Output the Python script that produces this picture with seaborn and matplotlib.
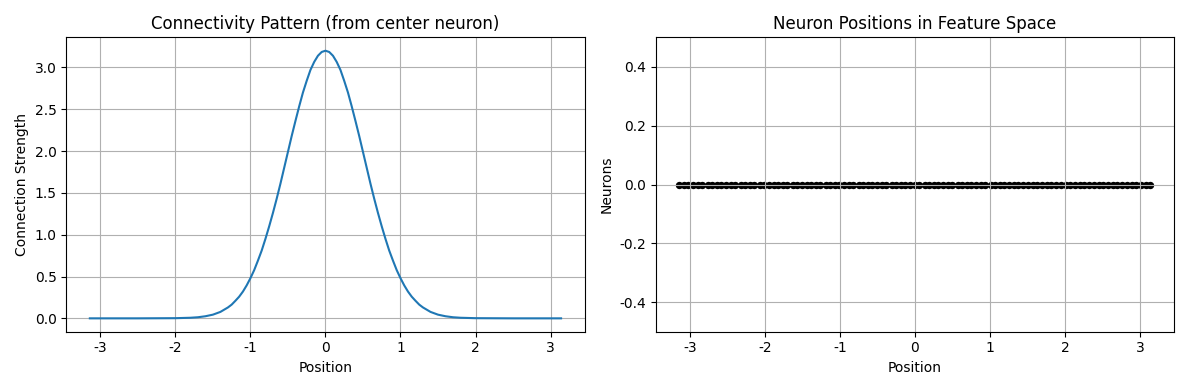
import matplotlib
matplotlib.use("Agg")
import matplotlib.pyplot as plt
import seaborn as sns
import pandas as pd

plt.rcParams['axes.unicode_minus'] = False

# Connectivity profile
conn_x = [-3.14, -2.5, -2.0, -1.8, -1.7, -1.6, -1.5, -1.4, -1.3, -1.25, -1.2, -1.15,
          -1.1, -1.05, -1.0, -0.95, -0.9, -0.85, -0.8, -0.75, -0.7, -0.65, -0.6,
          -0.55, -0.5, -0.45, -0.4, -0.35, -0.3, -0.25, -0.2, -0.15, -0.1, -0.05,
          0.0,
          0.05, 0.1, 0.15, 0.2, 0.25, 0.3, 0.35, 0.4, 0.45, 0.5, 0.55,
          0.6, 0.65, 0.7, 0.75, 0.8, 0.85, 0.9, 0.95, 1.0, 1.05, 1.1,
          1.15, 1.2, 1.25, 1.3, 1.4, 1.5, 1.6, 1.7, 1.8, 2.0, 2.5, 3.14]
conn_y = [0.0, 0.0, 0.002, 0.007, 0.013, 0.025, 0.044, 0.077, 0.13, 0.164, 0.21, 0.259,
          0.32, 0.394, 0.48, 0.576, 0.69, 0.81, 0.95, 1.10, 1.26, 1.43, 1.61,
          1.80, 1.99, 2.18, 2.36, 2.535, 2.70, 2.84, 2.97, 3.066, 3.14, 3.185,
          3.20,
          3.185, 3.14, 3.066, 2.97, 2.84, 2.70, 2.535, 2.36, 2.18, 1.99, 1.80,
          1.61, 1.43, 1.26, 1.10, 0.95, 0.81, 0.69, 0.576, 0.48, 0.394, 0.32,
          0.259, 0.21, 0.164, 0.13, 0.077, 0.044, 0.025, 0.013, 0.007, 0.002, 0.0, 0.0]

# Neuron positions along the ring
positions = [-3.14, -3.08, -3.02, -2.95, -2.89, -2.83, -2.76, -2.70, -2.64, -2.58,
             -2.51, -2.45, -2.39, -2.32, -2.26, -2.20, -2.14, -2.07, -2.01, -1.95,
             -1.88, -1.82, -1.76, -1.70, -1.63, -1.57, -1.51, -1.44, -1.38, -1.32,
             -1.26, -1.19, -1.13, -1.07, -1.01, -0.94, -0.88, -0.82, -0.75, -0.69,
             -0.63, -0.57, -0.50, -0.44, -0.38, -0.31, -0.25, -0.19, -0.13, -0.06,
             0.00, 0.06, 0.13, 0.19, 0.25, 0.31, 0.38, 0.44, 0.50, 0.57,
             0.63, 0.69, 0.75, 0.82, 0.88, 0.94, 1.01, 1.07, 1.13, 1.19,
             1.26, 1.32, 1.38, 1.44, 1.51, 1.57, 1.63, 1.70, 1.76, 1.82,
             1.88, 1.95, 2.01, 2.07, 2.14, 2.20, 2.26, 2.32, 2.39, 2.45,
             2.51, 2.58, 2.64, 2.70, 2.76, 2.83, 2.89, 2.95, 3.02, 3.08, 3.14]

conn_df = pd.DataFrame({'x': conn_x, 'y': conn_y})
pos_df = pd.DataFrame({'x': positions, 'y': [0.0] * len(positions)})

fig, axes = plt.subplots(1, 2, figsize=(11.89, 3.9), dpi=100)

# Left: connectivity pattern
ax = axes[0]
sns.lineplot(data=conn_df, x='x', y='y', ax=ax, color='#1f77b4', linewidth=1.5)
ax.set_title('Connectivity Pattern (from center neuron)')
ax.set_xlabel('Position')
ax.set_ylabel('Connection Strength')
ax.grid(True)

# Right: neuron positions
ax = axes[1]
sns.scatterplot(data=pos_df, x='x', y='y', ax=ax, color='black', s=28, linewidth=0)
ax.set_ylim(-0.5, 0.5)
ax.set_title('Neuron Positions in Feature Space')
ax.set_xlabel('Position')
ax.set_ylabel('Neurons')
ax.grid(True)

plt.tight_layout()
plt.savefig('out.png')
plt.close()
